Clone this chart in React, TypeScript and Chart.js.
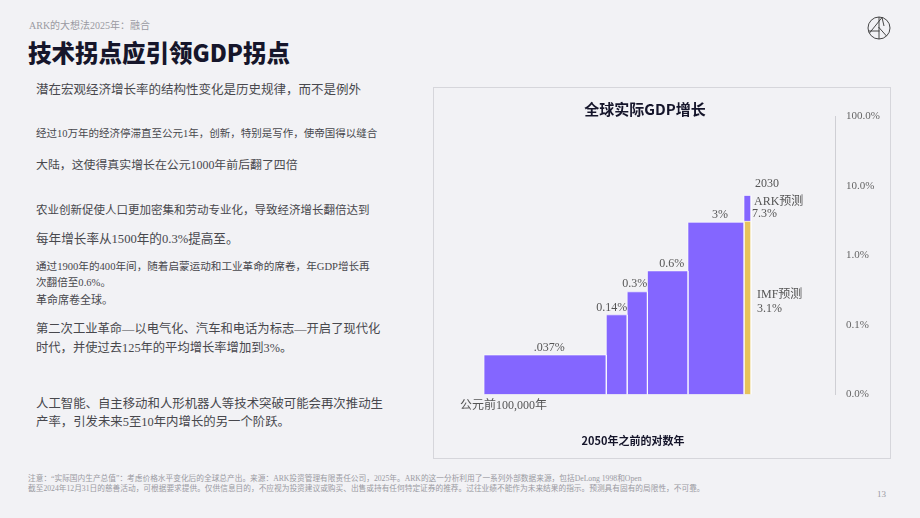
import React, { useEffect, useRef } from "react";
import { Chart, registerables } from "chart.js";

Chart.register(...registerables);

// ---------- data ----------
const referenceYear = 2050;
const periodStartYears = [-100000, 1, 1000, 1500, 1900];
const periodEndYears = [1, 1000, 1500, 1900, 2025];
const historicalGrowth = [0.037, 0.14, 0.3, 0.6, 3];
const historicalLabels = [".037%", "0.14%", "0.3%", "0.6%", "3%"];
const forecastStartYear = 2025;
const forecastEndYear = 2030;
const imfForecast = 3.1;
const arkForecast = 7.3;
const yTicks = [0.01, 0.1, 1, 10, 100];
const xAxisBounds = [1.362, 200000];

const PURPLE = "#8466ff";
const YELLOW = "#e6c35c";
const SEP = "rgba(255,255,255,0.6)";
const SERIF = '"Liberation Serif", "Noto Sans CJK SC", serif';
const SANS = '"Noto Sans CJK SC", "Noto Sans", sans-serif';

const yb = (year: number) => referenceYear - year;

const rect = (x0: number, x1: number, lo: number, hi: number) => [
  { x: x0, y: lo },
  { x: x0, y: hi },
  { x: x1, y: hi },
  { x: x1, y: lo },
];

const labelPlugin = {
  id: "gdpLabels",
  afterDatasetsDraw(chart: any) {
    const { ctx, chartArea } = chart;
    const x = chart.scales.x;
    const y = chart.scales.y;
    ctx.save();
    ctx.font = `12px ${SERIF}`;
    ctx.fillStyle = "#555";
    ctx.textBaseline = "middle";
    historicalGrowth.forEach((g, i) => {
      const x0 = x.getPixelForValue(yb(periodStartYears[i]));
      const x1 = x.getPixelForValue(yb(periodEndYears[i]));
      const top = y.getPixelForValue(g);
      const label = historicalLabels[i];
      const w = ctx.measureText(label).width;
      if (w > x1 - x0) {
        ctx.textAlign = "right";
        ctx.fillText(label, x1, top - 7.5);
      } else {
        ctx.textAlign = "center";
        ctx.fillText(label, (x0 + x1) / 2 + 4, top - 7.5);
      }
    });
    const fx = x.getPixelForValue(yb(forecastEndYear));
    const arkTop = y.getPixelForValue(arkForecast);
    const imfTop = y.getPixelForValue(imfForecast);
    ctx.textAlign = "left";
    ctx.fillText(String(forecastEndYear), fx + 4, arkTop - 12);
    ctx.fillText("ARK预测", fx + 3, arkTop + 6);
    ctx.fillText(arkForecast.toFixed(1) + "%", fx + 1, arkTop + 18.5);
    ctx.fillText("IMF预测", fx + 6, imfTop + 73.7);
    ctx.fillText(imfForecast.toFixed(1) + "%", fx + 6, imfTop + 87.7);

    const startX = x.getPixelForValue(yb(periodStartYears[0]));
    ctx.fillText("公元前100,000年", startX - 24, chartArea.bottom + 11.5);

    const mid = (chartArea.left + chartArea.right) / 2;
    ctx.fillStyle = "#15152a";
    ctx.textAlign = "center";
    ctx.font = `bold 15px ${SANS}`;
    ctx.fillText("全球实际GDP增长", mid - 4, chartArea.top - 7.5);
    ctx.font = `bold 11px ${SANS}`;
    ctx.fillText("2050年之前的对数年", mid - 16, chartArea.bottom + 46.2);
    ctx.restore();
  },
};

function GdpChart() {
  const ref = useRef<HTMLCanvasElement | null>(null);
  useEffect(() => {
    if (!ref.current) return;
    const floor = yTicks[0];
    const histSets = historicalGrowth.map((g, i) => ({
      data: rect(yb(periodStartYears[i]), yb(periodEndYears[i]), floor, g),
      backgroundColor: PURPLE,
      borderColor: SEP,
      borderWidth: 1,
      fill: "start",
      pointRadius: 0,
      tension: 0,
    }));
    const imfSet = {
      data: rect(yb(forecastStartYear), yb(forecastEndYear), floor, imfForecast),
      backgroundColor: YELLOW,
      borderColor: SEP,
      borderWidth: 1,
      fill: "start",
      pointRadius: 0,
      tension: 0,
    };
    const arkSet = {
      data: rect(yb(forecastStartYear), yb(forecastEndYear), imfForecast, arkForecast),
      backgroundColor: PURPLE,
      borderColor: SEP,
      borderWidth: 1,
      fill: { value: imfForecast },
      pointRadius: 0,
      tension: 0,
    };
    const chart = new Chart(ref.current, {
      type: "line",
      data: { datasets: [...histSets, imfSet, arkSet] as any },
      options: {
        animation: false,
        responsive: false,
        devicePixelRatio: 1,
        events: [],
        layout: { padding: { left: 29, right: 5, top: 28.5, bottom: 63.5 } },
        plugins: { legend: { display: false }, tooltip: { enabled: false }, title: { display: false } },
        scales: {
          x: {
            type: "logarithmic",
            reverse: true,
            min: xAxisBounds[0],
            max: xAxisBounds[1],
            display: false,
          },
          y: {
            type: "logarithmic",
            position: "right",
            min: yTicks[0],
            max: yTicks[yTicks.length - 1],
            afterBuildTicks: (scale: any) => {
              scale.ticks = yTicks.map((v) => ({ value: v }));
            },
            afterFit: (scale: any) => {
              scale.width = 50;
            },
            grid: { color: "transparent", drawTicks: false },
            border: { display: true, color: "#cfcfd4", width: 1 },
            ticks: {
              padding: 11,
              color: "#666",
              font: { family: SERIF, size: 11 },
              callback: (v: any) => Number(v).toFixed(1) + "%",
            },
          },
        },
      } as any,
      plugins: [labelPlugin],
    });
    return () => chart.destroy();
  }, []);
  return (
    <canvas
      ref={ref}
      width={456}
      height={370}
      style={{ position: "absolute", left: 434, top: 88, width: 456, height: 370 }}
    />
  );
}

const abs = (left: number, top: number, size: number, lh: number, extra: any = {}) => ({
  position: "absolute" as const,
  left,
  top,
  fontSize: size,
  lineHeight: lh + "px",
  whiteSpace: "nowrap" as const,
  fontFamily: SERIF,
  fontWeight: 400,
  color: "#48484d",
  ...extra,
});

export default function App() {
  return (
    <div
      style={{
        position: "fixed",
        left: 0,
        top: 0,
        width: 920,
        height: 518,
        background: "#f2f2f5",
        overflow: "hidden",
      }}
    >
      <div style={abs(29, 19, 10, 14, { color: "#9a9aa2" })}>ARK的大想法2025年：融合</div>
      <div style={abs(28, 37, 23.5, 30, { fontFamily: SANS, fontWeight: 900, color: "#16162b" })}>
        技术拐点应引领GDP拐点
      </div>
      <svg style={{ position: "absolute", left: 866, top: 15 }} width={26} height={26} viewBox="-13 -13 26 26">
        <g stroke="#333" strokeWidth={0.9} fill="none">
          <circle r={11} />
          <line x1={0} y1={-11} x2={0} y2={11} />
          <line x1={3} y1={-10.5} x2={-9.5} y2={5} />
          <line x1={3} y1={-10.5} x2={5} y2={-2} />
          <line x1={-0.5} y1={-1} x2={7.5} y2={8} />
          <line x1={-10} y1={3} x2={0.5} y2={3} />
        </g>
      </svg>

      <div style={abs(36, 81, 12.5, 18)}>潜在宏观经济增长率的结构性变化是历史规律，而不是例外</div>
      <div style={abs(36, 127, 10.5, 14)}>经过10万年的经济停滞直至公元1年，创新，特别是写作，使帝国得以缝合</div>
      <div style={abs(36, 156, 11.9, 18)}>大陆，这使得真实增长在公元1000年前后翻了四倍</div>
      <div style={abs(36, 202, 11.5, 16)}>农业创新促使人口更加密集和劳动专业化，导致经济增长翻倍达到</div>
      <div style={abs(36, 230, 12.6, 18)}>每年增长率从1500年的0.3%提高至。</div>
      <div style={abs(36, 258.7, 10.6, 16)}>
        通过1900年的400年间，随着启蒙运动和工业革命的席卷，年GDP增长再
        <br />
        次翻倍至0.6%。
      </div>
      <div style={abs(36, 292, 11, 16)}>革命席卷全球。</div>
      <div style={abs(36, 320.1, 12.3, 18.4)}>
        第二次工业革命—以电气化、汽车和电话为标志—开启了现代化
        <br />
        时代，并使过去125年的平均增长率增加到3%。
      </div>
      <div style={abs(36, 394.6, 12.4, 18.7)}>
        人工智能、自主移动和人形机器人等技术突破可能会再次推动生
        <br />
        产率，引发未来5至10年内增长的另一个阶跃。
      </div>

      <div
        style={{
          position: "absolute",
          left: 433,
          top: 87,
          width: 458,
          height: 372,
          border: "1px solid #d6d6db",
          boxSizing: "border-box",
        }}
      />
      <GdpChart />

      <div style={abs(28, 474.4, 7.7, 9.3, { color: "#9a9aa2" })}>
        注意：“实际国内生产总值”：考虑价格水平变化后的全球总产出。来源：ARK投资管理有限责任公司，2025年。ARK的这一分析利用了一系列外部数据来源，包括DeLong 1998和Open
        <br />
        截至2024年12月31日的慈善活动，可根据要求提供。仅供信息目的，不应视为投资建议或购买、出售或持有任何特定证券的推荐。过往业绩不能作为未来结果的指示。预测具有固有的局限性，不可靠。
      </div>
      <div style={abs(877, 488, 9, 12, { color: "#9a9aa2" })}>13</div>
    </div>
  );
}
